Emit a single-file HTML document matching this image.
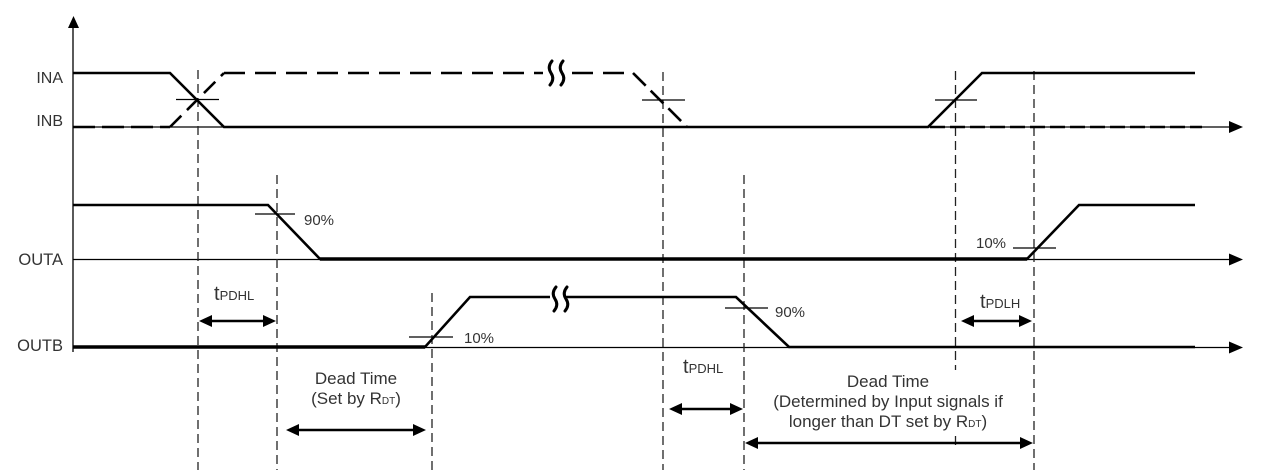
<!DOCTYPE html>
<html>
<head>
<meta charset="utf-8">
<style>
  html,body{margin:0;padding:0;background:#fff;}
  svg{display:block;}
  text{font-family:"Liberation Sans",Arial,sans-serif;fill:#333;}
</style>
</head>
<body>
<svg width="1265" height="470" viewBox="0 0 1265 470" xmlns="http://www.w3.org/2000/svg">

  <!-- Y axis -->
  <line x1="73" y1="27" x2="73" y2="352" stroke="#000" stroke-width="1.3"/>
  <path d="M68,28 L73.5,16 L79,28 Z" fill="#000"/>

  <!-- horizontal axes -->
  <line x1="73" y1="127" x2="1231" y2="127" stroke="#000" stroke-width="1.3"/>
  <path d="M1229,121 L1243,127 L1229,133 Z" fill="#000"/>
  <line x1="73" y1="259.5" x2="1231" y2="259.5" stroke="#000" stroke-width="1.3"/>
  <path d="M1229,253.5 L1243,259.5 L1229,265.5 Z" fill="#000"/>
  <line x1="73" y1="347.5" x2="1231" y2="347.5" stroke="#000" stroke-width="1.3"/>
  <path d="M1229,341.5 L1243,347.5 L1229,353.5 Z" fill="#000"/>

  <!-- vertical dashed reference lines -->
  <g stroke="#222" stroke-width="1.3" stroke-dasharray="9 5" fill="none">
    <line x1="198" y1="70" x2="198" y2="470"/>
    <line x1="277" y1="175" x2="277" y2="470"/>
    <line x1="432" y1="293" x2="432" y2="470"/>
    <line x1="663" y1="72" x2="663" y2="470"/>
    <line x1="744" y1="175" x2="744" y2="470"/>
    <line x1="955.5" y1="71" x2="955.5" y2="370"/>
    <line x1="955.5" y1="436" x2="955.5" y2="446"/>
    <line x1="1034" y1="71" x2="1034" y2="470"/>
  </g>

  <!-- INA (solid) -->
  <polyline points="73,73 170,73 224,127 928,127 982,73 1195,73" fill="none" stroke="#000" stroke-width="2.6" stroke-linejoin="miter"/>

  <!-- INB (dashed) -->
  <g fill="none" stroke="#000" stroke-width="2.6">
    <line x1="73" y1="127" x2="170" y2="127" stroke-dasharray="22 7"/>
    <line x1="170" y1="127" x2="224" y2="73" stroke-dasharray="16 8"/>
    <line x1="224" y1="73" x2="543" y2="73" stroke-dasharray="21 10"/>
    <line x1="572" y1="73" x2="633" y2="73" stroke-dasharray="21 10"/>
    <line x1="633" y1="73" x2="687" y2="127" stroke-dasharray="18 7"/>
    <line x1="930" y1="127" x2="1202" y2="127" stroke-dasharray="15 5"/>
  </g>
  <!-- break symbol on INB -->
  <g fill="none" stroke="#000" stroke-width="3" stroke-linecap="round">
    <path d="M552,61 Q547,67 551,73 Q555,79 550,85"/>
    <path d="M563,61 Q558,67 562,73 Q566,79 561,85"/>
  </g>

  <!-- cross marks on inputs -->
  <g stroke="#000" stroke-width="1.2">
    <line x1="176" y1="99.5" x2="219" y2="99.5"/>
    <line x1="642" y1="100" x2="685" y2="100"/>
    <line x1="935" y1="100" x2="977" y2="100"/>
  </g>

  <!-- OUTA -->
  <polyline points="73,205 268,205 320,259 1027,259 1079,205 1195,205" fill="none" stroke="#000" stroke-width="2.6"/>
  <line x1="320" y1="259" x2="1027" y2="259" stroke="#000" stroke-width="3.6"/>

  <!-- OUTB -->
  <polyline points="73,347 425,347 470,297 736,297 789,347 1195,347" fill="none" stroke="#000" stroke-width="2.6"/>
  <line x1="73" y1="347" x2="425" y2="347" stroke="#000" stroke-width="3.6"/>
  <!-- break on OUTB -->
  <rect x="550" y="294" width="16" height="6" fill="#fff"/>
  <g fill="none" stroke="#000" stroke-width="3" stroke-linecap="round">
    <path d="M556,287 Q551,293 555,299 Q559,305 554,311"/>
    <path d="M567,287 Q562,293 566,299 Q570,305 565,311"/>
  </g>

  <!-- percent marks -->
  <g stroke="#000" stroke-width="1.2">
    <line x1="255" y1="214" x2="295" y2="214"/>
    <line x1="409" y1="337" x2="453" y2="337"/>
    <line x1="725" y1="308" x2="768" y2="308"/>
    <line x1="1013" y1="248" x2="1056" y2="248"/>
  </g>
  <text x="304" y="225" font-size="15">90%</text>
  <text x="464" y="343" font-size="15">10%</text>
  <text x="775" y="317" font-size="15">90%</text>
  <text x="976" y="248" font-size="15">10%</text>

  <!-- signal labels -->
  <text x="63" y="83" font-size="16" text-anchor="end">INA</text>
  <text x="63" y="126" font-size="16" text-anchor="end">INB</text>
  <text x="63" y="265" font-size="16.5" text-anchor="end">OUTA</text>
  <text x="63" y="351" font-size="16.5" text-anchor="end">OUTB</text>

  <!-- timing labels -->
  <text x="214" y="300"><tspan font-size="20">t</tspan><tspan font-size="13">PDHL</tspan></text>
  <text x="683" y="373"><tspan font-size="20">t</tspan><tspan font-size="13">PDHL</tspan></text>
  <text x="980" y="308"><tspan font-size="20">t</tspan><tspan font-size="13">PDLH</tspan></text>

  <!-- double arrows -->
  <g stroke="#000" stroke-width="2.6">
    <line x1="208" y1="321" x2="267" y2="321"/>
    <line x1="296" y1="430" x2="416" y2="430"/>
    <line x1="679" y1="409" x2="733" y2="409"/>
    <line x1="755" y1="443" x2="1023" y2="443"/>
    <line x1="971" y1="321" x2="1022" y2="321"/>
  </g>
  <g fill="#000">
    <path d="M199,321 L212,315 L212,327 Z"/>
    <path d="M276,321 L263,315 L263,327 Z"/>
    <path d="M286,430 L299,424 L299,436 Z"/>
    <path d="M426,430 L413,424 L413,436 Z"/>
    <path d="M669,409 L682,403 L682,415 Z"/>
    <path d="M743,409 L730,403 L730,415 Z"/>
    <path d="M745,443 L758,437 L758,449 Z"/>
    <path d="M1033,443 L1020,437 L1020,449 Z"/>
    <path d="M961,321 L974,315 L974,327 Z"/>
    <path d="M1032,321 L1019,315 L1019,327 Z"/>
  </g>

  <!-- Dead time texts -->
  <text x="356" y="384" font-size="17" text-anchor="middle">Dead Time</text>
  <text x="356" y="404" font-size="17" text-anchor="middle">(Set by R<tspan font-size="10">DT</tspan>)</text>

  <text x="888" y="387" font-size="17" text-anchor="middle">Dead Time</text>
  <text x="888" y="407" font-size="17" text-anchor="middle">(Determined by Input signals if</text>
  <text x="888" y="427" font-size="17" text-anchor="middle">longer than DT set by R<tspan font-size="10">DT</tspan>)</text>
</svg>
</body>
</html>
